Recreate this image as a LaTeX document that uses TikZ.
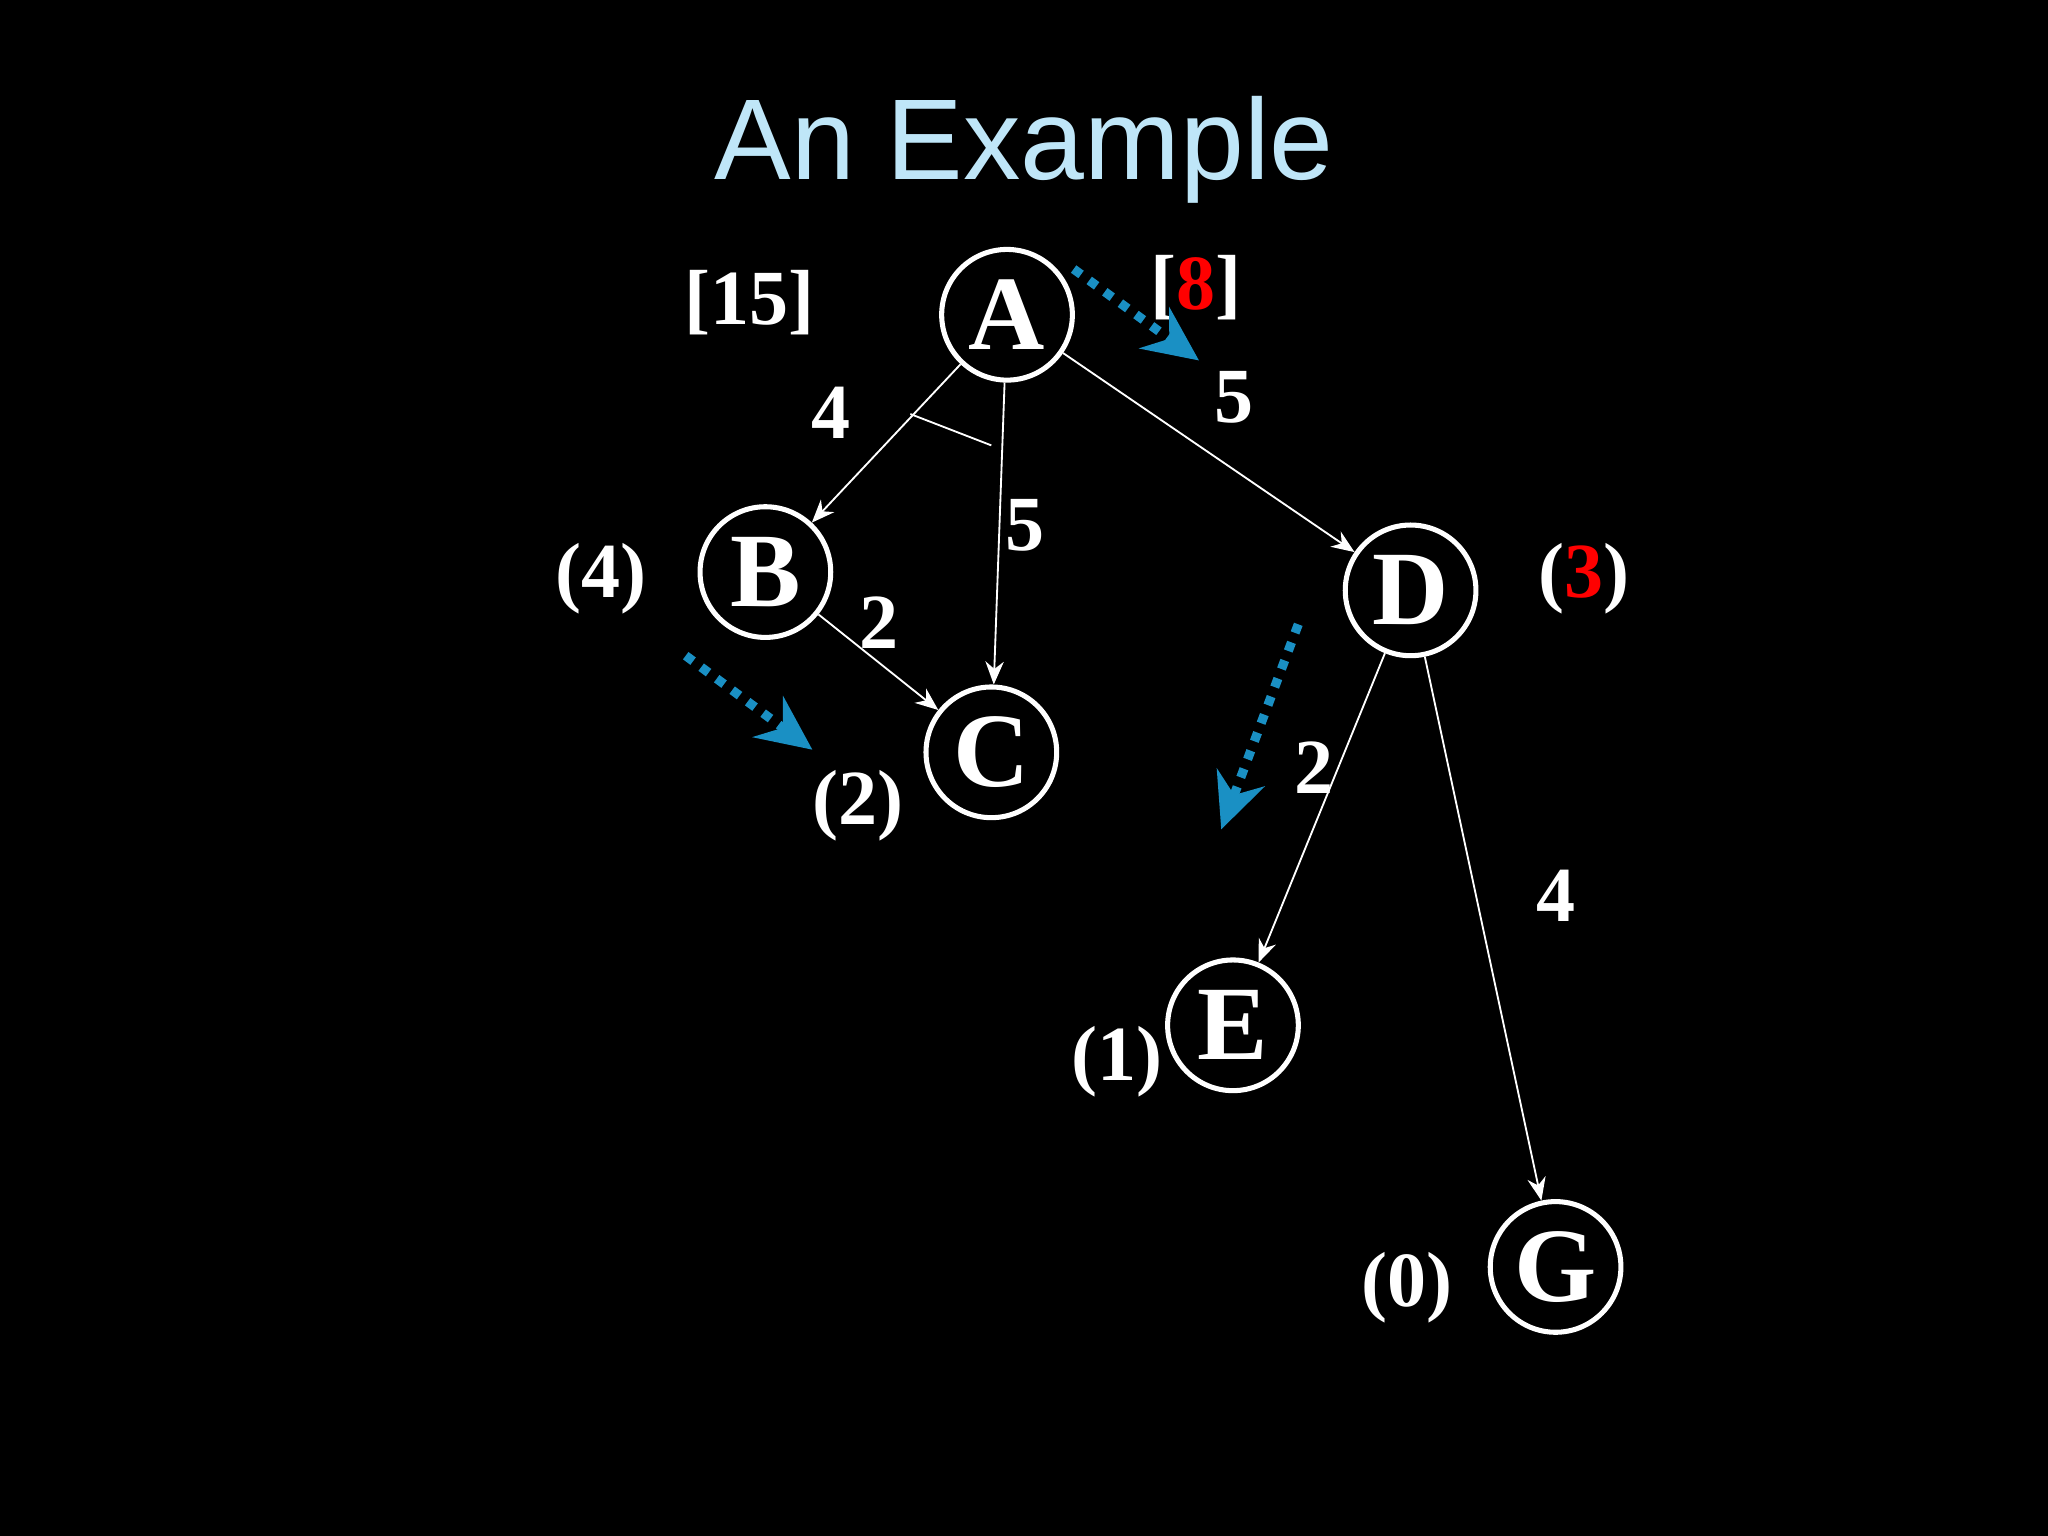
\documentclass[tikz,border=0pt]{standalone}
\usepackage{fontspec}
\setmainfont{Liberation Serif}
\setsansfont{Liberation Sans}
\usetikzlibrary{arrows.meta}
\definecolor{titleblue}{HTML}{BFE6F8}
\definecolor{hint}{HTML}{1A90C4}
\begin{document}
\begin{tikzpicture}[x=0.01cm,y=-0.01cm,
  vtx/.style={circle,draw=white,line width=1.1pt,minimum size=1cm,inner sep=0pt,text=white,font=\fontsize{23}{23}\selectfont\bfseries},
  lbl/.style={text=white,font=\fontsize{17}{17}\selectfont\bfseries,inner sep=0pt},
  edge/.style={draw=white,line width=0.4pt,-{Stealth[length=5pt,width=4pt]}},
  hintarr/.style={draw=hint,line width=2pt,dash pattern=on 2pt off 2.2pt,-{Stealth[length=12pt,width=11pt,inset=4pt,fill=hint]}}]
\fill[black] (0,0) rectangle (1568,1176);
\node[text=titleblue,font=\sffamily\fontsize{25}{25}\selectfont] (title) at (784,115) {An Example};
\node[vtx] (A) at (771,241) {A};
\node[vtx] (B) at (586,438) {B};
\node[vtx] (C) at (759,576) {C};
\node[vtx] (D) at (1080,452) {D};
\node[vtx] (E) at (944,785) {E};
\node[vtx] (G) at (1191,970) {G};
\draw[edge] (A) -- (B);
\draw[edge] (A) -- (C);
\draw[edge] (A) -- (D);
\draw[edge] (B) -- (C);
\draw[edge] (D) -- (E);
\draw[edge] (D) -- (G);
\coordinate (m1) at (697,317);
\coordinate (m2) at (759,341);
\draw[white,line width=0.4pt] (m1) -- (m2);
\node[lbl] (l15) at (574,232) {[15]};
\node[lbl] (l8) at (916,220) {[\textcolor{red}{8}]};
\node[lbl] (w1) at (636,316) {4};
\node[lbl] (w2) at (945,304) {5};
\node[lbl] (w3) at (785,402) {5};
\node[lbl] (w4) at (673,477) {2};
\node[lbl] (hB) at (460,443) {(4)};
\node[lbl] (hD) at (1213,443) {(\textcolor{red}{3})};
\node[lbl] (hC) at (657,617) {(2)};
\node[lbl] (w5) at (1006,588) {2};
\node[lbl] (w6) at (1191,686) {4};
\node[lbl] (hE) at (855,813) {(1)};
\node[lbl] (hG) at (1077,986) {(0)};
\coordinate (p1) at (822,206); \coordinate (q1) at (918,276);
\coordinate (p2) at (525,502); \coordinate (q2) at (622,574);
\coordinate (p3) at (994,478); \coordinate (q3) at (935,635);
\draw[hintarr] (p1) -- (q1);
\draw[hintarr] (p2) -- (q2);
\draw[hintarr] (p3) -- (q3);
\end{tikzpicture}
\end{document}
